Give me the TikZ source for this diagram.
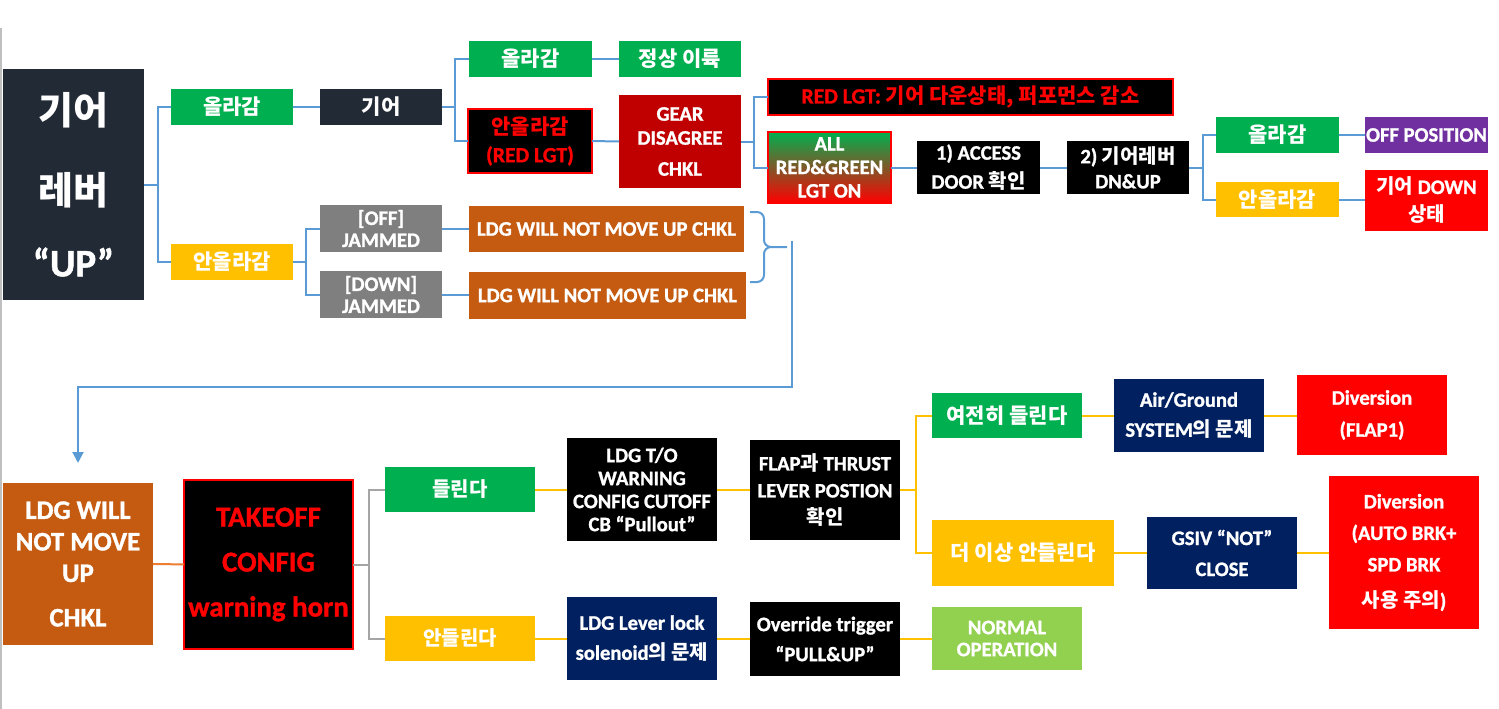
\documentclass[tikz,border=0pt]{standalone}
\usepackage{fontspec}
\setmainfont{Carlito}[Scale=1.03, BoldFeatures={FakeBold=1.2}]
\newfontfamily\kr{Noto Sans CJK KR}
\usetikzlibrary{arrows.meta}
\definecolor{navyA}{HTML}{222A35}
\definecolor{navyB}{HTML}{002060}
\definecolor{greenA}{HTML}{00B050}
\definecolor{greenB}{HTML}{92D050}
\definecolor{yellowA}{HTML}{FFC000}
\definecolor{grayA}{HTML}{7F7F7F}
\definecolor{brownA}{HTML}{C55A11}
\definecolor{darkredA}{HTML}{C00000}
\definecolor{redA}{HTML}{FF0000}
\definecolor{purpleA}{HTML}{7030A0}
\definecolor{midA}{HTML}{CC7A3E}
\definecolor{blueL}{HTML}{5B9BD5}
\definecolor{orangeL}{HTML}{ED7D31}
\definecolor{grayL}{HTML}{A5A5A5}
\definecolor{yellowL}{HTML}{FFC000}
\definecolor{edgeL}{HTML}{BFBFBF}
\newcommand{\bx}[7]{%
  \node[#6, minimum width={(#4)-(#2)}, minimum height={(#5)-(#3)}] (#1) at ({((#2)+(#4))/2},{((#3)+(#5))/2}) {#7};}
\tikzset{
  fs/.style 2 args={font=\bfseries\fontsize{#1}{#2}\selectfont},
  box/.style={inner sep=0pt, outer sep=0pt, align=center, text=white, fs={20}{23}},
  redbox/.style={box, fill=black, draw=redA, line width=2pt, text=redA},
  conn/.style={line width=2pt},
  bl/.style={conn, draw=blueL},
  yl/.style={conn, draw=yellowL},
  gl/.style={conn, draw=grayL},
  ol/.style={conn, draw=orangeL},
}
\begin{document}
\begin{tikzpicture}[x=1pt,y=-1pt]
\useasboundingbox (0,0) rectangle (1499,709);
\draw[edgeL, line width=1.5pt] (1,28) -- (1,709);

% ---------- top part ----------
\bx{main}{3}{69}{144}{300}{box, fill=navyA, fs={38}{72}}{{\kr 기어}\\[8pt]{\kr 레버}\\“UP”}
\bx{upA}{171}{89}{293}{125}{box, fill=greenA, fs={21}{24}}{\kr 올라감}
\bx{gear}{320}{89}{442}{125}{box, fill=navyA, fs={21}{24}}{\kr 기어}
\bx{nupA}{171}{244}{293}{280}{box, fill=yellowA, fs={21}{24}}{\kr 안올라감}
\bx{offj}{320}{205}{442}{252}{box, fill=grayA, fs={20}{22}}{[OFF]\\JAMMED}
\bx{downj}{320}{271}{442}{318}{box, fill=grayA, fs={20}{22}}{[DOWN]\\JAMMED}
\bx{upB}{469}{41}{592}{77}{box, fill=greenA, fs={21}{24}}{\kr 올라감}
\bx{takeoffok}{619}{41}{741}{77}{box, fill=greenA, fs={21}{24}}{\kr 정상 이륙}
\bx{redlgtA}{468}{109}{592}{173}{redbox, fs={21}{28}}{{\kr 안올라감}\\(RED LGT)}
\bx{geardis}{619}{95}{741}{188}{box, fill=darkredA, fs={20}{24}}{GEAR\\DISAGREE\\[7pt]CHKL}
\bx{ldgA}{469}{206}{744}{252}{box, fill=brownA}{LDG WILL NOT MOVE UP CHKL}
\bx{ldgB}{469}{272}{746}{319}{box, fill=brownA}{LDG WILL NOT MOVE UP CHKL}
\bx{redlgtB}{768}{79}{1173}{115}{redbox, fs={21}{24}}{RED LGT: {\kr 기어 다운상태, 퍼포먼스 감소}}
\bx{allrg}{768}{132}{891}{203}{box, top color=greenA, middle color=midA, bottom color=redA, draw=redA, line width=2pt, fs={20}{23.5}}{ALL\\RED\&GREEN\\LGT ON}
\bx{access}{917}{141}{1040}{194}{box, fill=black, fs={20}{29}}{1) ACCESS\\DOOR {\kr 확인}}
\bx{lever}{1067}{141}{1189}{194}{box, fill=black, fs={20}{25}}{2) {\kr 기어레버}\\DN\&UP}
\bx{upC}{1216}{117}{1339}{153}{box, fill=greenA, fs={21}{24}}{\kr 올라감}
\bx{offpos}{1365}{117}{1488}{153}{box, fill=purpleA}{OFF POSITION}
\bx{nupC}{1216}{182}{1339}{217}{box, fill=yellowA, fs={21}{24}}{\kr 안올라감}
\bx{geardown}{1365}{170}{1488}{231}{box, fill=redA, fs={20}{28}}{{\kr 기어} DOWN\\{\kr 상태}}

% ---------- bottom part ----------
\bx{ldgbig}{3}{483}{153}{645}{box, fill=brownA, fs={26}{31.5}}{LDG WILL\\NOT MOVE\\UP\\[13pt]CHKL}
\bx{takeoff}{184}{480}{353}{649}{redbox, fs={28}{45}}{TAKEOFF\\CONFIG\\warning horn}
\bx{hear}{385}{467}{535}{512}{box, fill=greenA}{\kr 들린다}
\bx{nohear}{385}{616}{535}{661}{box, fill=yellowA}{\kr 안들린다}
\bx{ldgto}{567}{438}{717}{541}{box, fill=black}{LDG T/O\\WARNING\\CONFIG CUTOFF\\CB “Pullout”}
\bx{solenoid}{567}{597}{717}{680}{box, fill=navyB, fs={20}{30}}{LDG Lever lock\\solenoid{\kr 의 문제}}
\bx{flap}{750}{440}{900}{540}{box, fill=black, fs={20}{27}}{FLAP{\kr 과} THRUST\\LEVER POSTION\\{\kr 확인}}
\bx{override}{750}{602}{900}{676}{box, fill=black, fs={20}{30}}{Override trigger\\“PULL\&UP”}
\bx{still}{932}{393}{1082}{438}{box, fill=greenA, fs={21}{24}}{\kr 여전히 들린다}
\bx{nomore}{932}{520}{1114}{586}{box, fill=yellowA, fs={21}{24}}{\kr 더 이상 안들린다}
\bx{normalop}{932}{607}{1082}{670}{box, fill=greenB, fs={20}{22}}{NORMAL\\OPERATION}
\bx{airground}{1114}{379}{1264}{452}{box, fill=navyB, fs={20}{30}}{Air/Ground\\SYSTEM{\kr 의 문제}}
\bx{divA}{1297}{375}{1447}{455}{box, fill=redA, fs={20}{32}}{Diversion\\(FLAP1)}
\bx{gsiv}{1147}{517}{1297}{589}{box, fill=navyB, fs={20}{31}}{GSIV “NOT”\\CLOSE}
\bx{divB}{1329}{476}{1479}{629}{box, fill=redA, fs={20}{31.5}}{Diversion\\(AUTO BRK+\\SPD BRK\\[5pt]{\kr 사용 주의})}

% ---------- connectors (top) ----------
\coordinate (b1) at (158,184.5);
\draw[bl] (main.east) -- (b1) |- (upA.west);
\draw[bl] (b1) |- (nupA.west);
\draw[bl] (upA) -- (gear);
\coordinate (b2) at (455,107);
\draw[bl] (gear.east) -- (b2) |- (upB.west);
\draw[bl] (b2) |- (redlgtA.west);
\draw[bl] (upB) -- (takeoffok);
\draw[bl] (redlgtA) -- (geardis);
\coordinate (b3) at (754,141.5);
\draw[bl] (geardis.east) -- (b3) |- (redlgtB.west);
\draw[bl] (b3) |- (allrg.west);
\draw[bl] (allrg.east) -- (access.west |- allrg.east);
\draw[bl] (access) -- (lever);
\coordinate (b4) at (1203,167.5);
\draw[bl] (lever.east) -- (b4) |- (upC.west);
\draw[bl] (b4) |- (nupC.west);
\draw[bl] (upC) -- (offpos);
\draw[bl] (nupC.east) -- (geardown.west |- nupC.east);
\coordinate (b5) at (306,262);
\draw[bl] (nupA.east) -- (b5) |- (offj.west);
\draw[bl] (b5) |- (downj.west);
\draw[bl] (offj.east) -- (ldgA.west |- offj.east);
\draw[bl] (downj.east) -- (ldgB.west |- downj.east);
% brace
\coordinate (brtip) at (787,247);
\draw[bl] (750,212) -- (757,212) to[out=0,in=90] (764,219) -- (764,240)
  to[out=-90,in=180] (771,247) -- (brtip);
\draw[bl] (771,247) to[out=180,in=90] (764,254) -- (764,275)
  to[out=-90,in=0] (757,282) -- (750,282);
% long return arrow
\coordinate (v1) at (792,241);
\coordinate (v2) at (792,387);
\draw[bl, -{Triangle[width=11pt,length=11pt]}, shorten >=20pt] (v1) -- (v2) -| (ldgbig.north);

% ---------- connectors (bottom) ----------
\draw[ol] (ldgbig) -- (takeoff);
\coordinate (b6) at (369,564.5);
\draw[gl] (takeoff.east) -- (b6) |- (hear.west);
\draw[gl] (b6) |- (nohear.west);
\draw[yl] (hear.east) -- (ldgto.west |- hear.east);
\draw[yl] (ldgto.east) -- (flap.west |- ldgto.east);
\coordinate (b7) at (916,490);
\draw[yl] (flap.east) -- (b7) |- (still.west);
\draw[yl] (b7) |- (nomore.west);
\draw[yl] (still.east) -- (airground.west |- still.east);
\draw[yl] (airground.east) -- (divA.west |- airground.east);
\draw[yl] (nomore.east) -- (gsiv.west |- nomore.east);
\draw[yl] (gsiv.east) -- (divB.west |- gsiv.east);
\draw[yl] (nohear.east) -- (solenoid.west |- nohear.east);
\draw[yl] (solenoid.east) -- (override.west |- solenoid.east);
\draw[yl] (override.east) -- (normalop.west |- override.east);
\end{tikzpicture}
\end{document}
